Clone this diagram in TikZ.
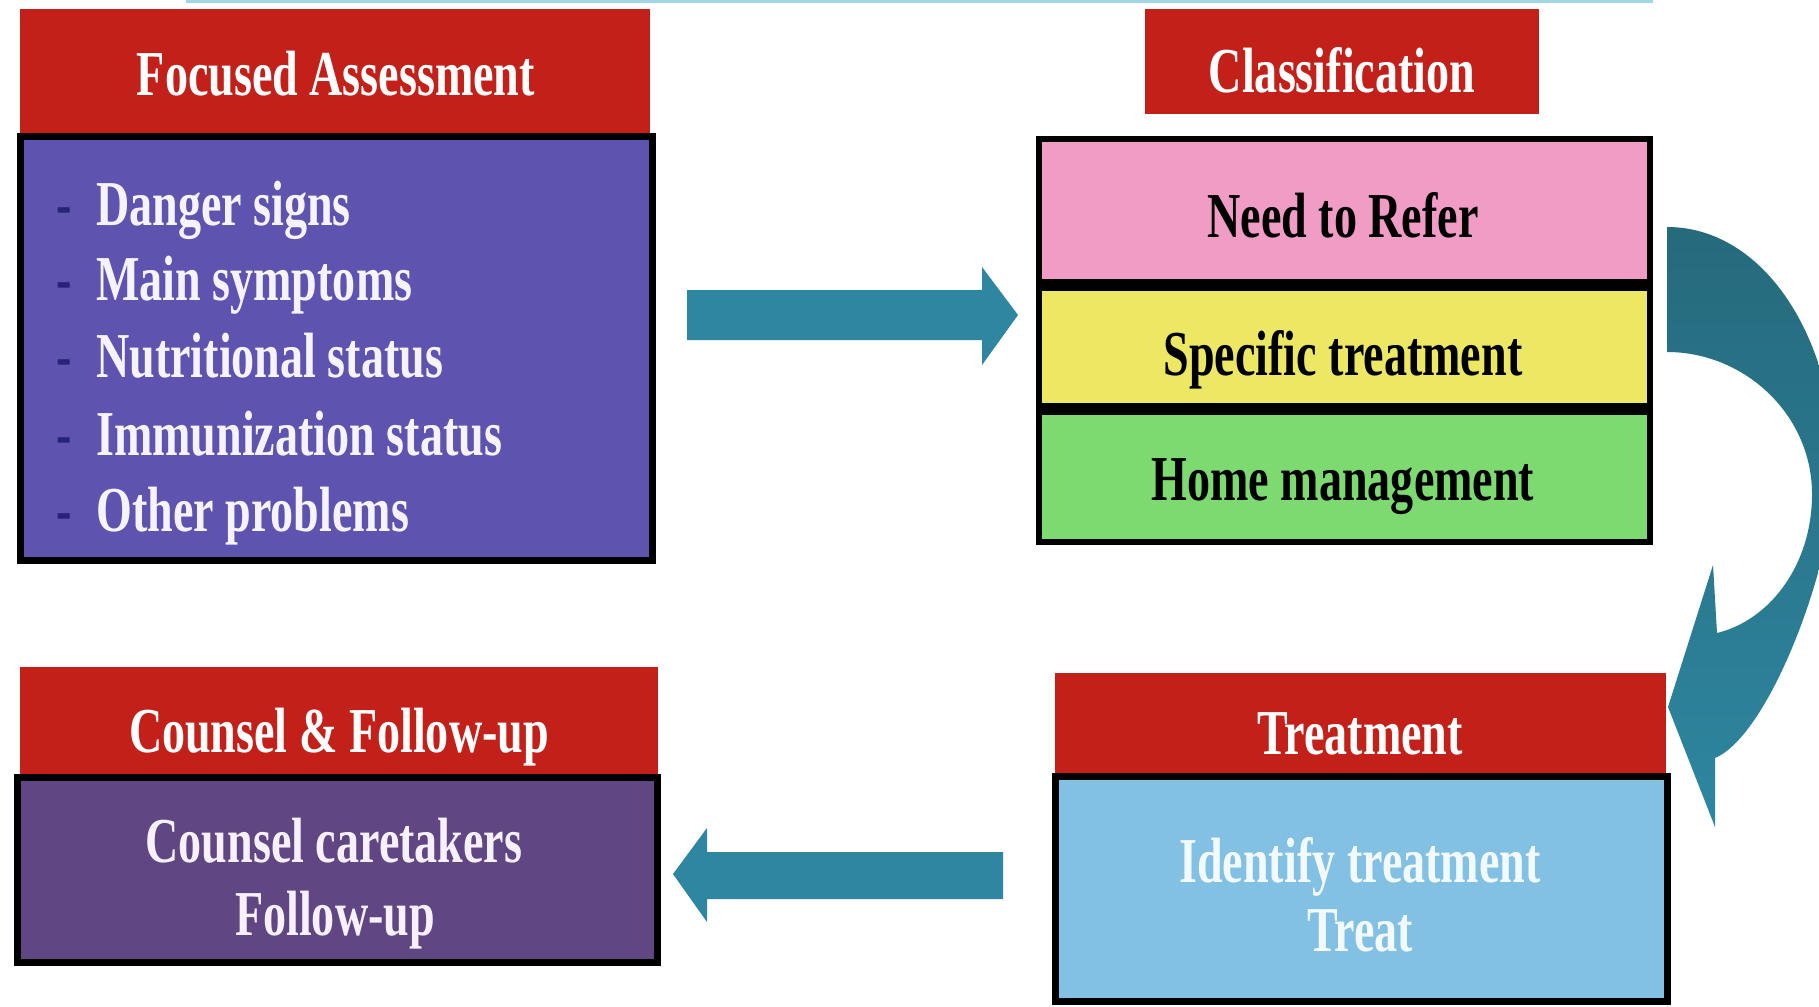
\documentclass[tikz,border=0pt]{standalone}
\usepackage{fontspec}
\setmainfont{Liberation Serif}[FakeStretch=0.72]
\definecolor{hdrred}{RGB}{196,32,26}
\definecolor{fapurple}{RGB}{94,84,176}
\definecolor{pinkband}{RGB}{240,156,196}
\definecolor{yellowband}{RGB}{237,232,100}
\definecolor{greenband}{RGB}{125,218,112}
\definecolor{trblue}{RGB}{130,192,228}
\definecolor{cnpurple}{RGB}{96,70,130}
\definecolor{tealarrow}{RGB}{46,134,160}
\definecolor{tealdark}{RGB}{38,106,124}
\definecolor{toplinec}{RGB}{160,214,230}
\definecolor{dashblue}{RGB}{40,34,120}
\newcommand\bigtxt{\fontsize{64}{70}\selectfont\bfseries}
\begin{document}
\begin{tikzpicture}[x=1pt,y=-1pt,
  box/.style={inner sep=0pt, outer sep=0pt, anchor=north west},
  hdr/.style={box, fill=hdrred},
  framed/.style={box, draw=black, line width=7pt},
  txt/.style={anchor=base, inner sep=0pt, font=\bigtxt},
  ltxt/.style={anchor=base west, inner sep=0pt, font=\bigtxt, text=white},
  blockarrow/.style={fill=tealarrow}]
\useasboundingbox (0,0) rectangle (1819,1006);
\clip (0,0) rectangle (1819,1006);
\fill[white] (0,0) rectangle (1819,1006);
% top line
\draw[toplinec, line width=3pt] (186,1.5) -- (1653,1.5);

% Focused Assessment
\node[hdr, minimum width=630pt, minimum height=124pt] (fahead) at (20,9) {};
\node[txt, text=white] (fahtxt) at (336,96) {Focused Assessment};
\node[framed, fill=fapurple, minimum width=632pt, minimum height=424pt] (fabody) at (20,136) {};
\foreach \y/\t [count=\i] in {225/Danger signs, 300/Main symptoms, 377/Nutritional status, 455/Immunization status, 531/Other problems}{
  \node[anchor=base west, inner sep=0pt, font=\bigtxt, text=dashblue] (fadash\i) at (56,\y) {-};
  \node[ltxt, text={rgb,255:red,246;green,242;blue,255}] (faitem\i) at (96,\y) {\t};
}

% Classification
\node[hdr, minimum width=394pt, minimum height=105pt] (clhead) at (1145,9) {};
\node[txt, text=white] (clhtxt) at (1342,93) {Classification};
\node[box, fill=black, minimum width=617pt, minimum height=409pt] (clbody) at (1036,136) {};
\node[box, fill=pinkband, minimum width=605pt, minimum height=137pt] (refer) at (1042,142) {};
\node[box, fill=yellowband, minimum width=605pt, minimum height=112pt] (specific) at (1042,291) {};
\node[box, fill=greenband, minimum width=605pt, minimum height=124pt] (home) at (1042,415) {};
\node[txt, text=black] (refertxt) at (1343,237) {Need to Refer};
\node[txt, text=black] (spectxt) at (1343,375) {Specific treatment};
\node[txt, text=black] (hometxt) at (1343,500) {Home management};

% Treatment
\node[hdr, minimum width=611pt, minimum height=104pt] (trhead) at (1055,673) {};
\node[txt, text=white] (trhtxt) at (1360,754) {Treatment};
\node[framed, fill=trblue, minimum width=612pt, minimum height=225pt] (trbody) at (1055,776) {};
\node[txt, text={rgb,255:red,242;green,250;blue,255}] (trtxt1) at (1360,882) {Identify treatment};
\node[txt, text={rgb,255:red,242;green,250;blue,255}] (trtxt2) at (1360,951) {Treat};

% Counsel & Follow-up
\node[hdr, minimum width=638pt, minimum height=110pt] (cnhead) at (20,667) {};
\node[txt, text=white] (cnhtxt) at (339,752) {Counsel \& Follow-up};
\node[framed, fill=cnpurple, minimum width=640pt, minimum height=185pt] (cnbody) at (17,777) {};
\node[txt, text={rgb,255:red,246;green,240;blue,255}] (cntxt1) at (334,862) {Counsel caretakers};
\node[txt, text={rgb,255:red,246;green,240;blue,255}] (cntxt2) at (335,935) {Follow-up};

% right arrow (assessment -> classification)
\fill[blockarrow] (687,290) -- (982,290) -- (982,267) -- (1018,315) -- (982,365) -- (982,340) -- (687,340) -- cycle;
% left arrow (treatment -> counsel)
\fill[blockarrow] (1003,852) -- (707,852) -- (707,828) -- (673,874) -- (707,922) -- (707,899) -- (1003,899) -- cycle;

% curved arrow (classification -> treatment)
\shade[top color=tealdark, bottom color=tealarrow]
  (1667,227) .. controls (1765,227) and (1835,340) .. (1835,470)
  .. controls (1835,560) and (1770,735) .. (1715,758)
  -- (1715,827) -- (1668,707) -- (1713,565) -- (1717,633)
  .. controls (1770,620) and (1812,565) .. (1812,494)
  .. controls (1812,415) and (1745,352) .. (1667,352) -- cycle;
\end{tikzpicture}
\end{document}
